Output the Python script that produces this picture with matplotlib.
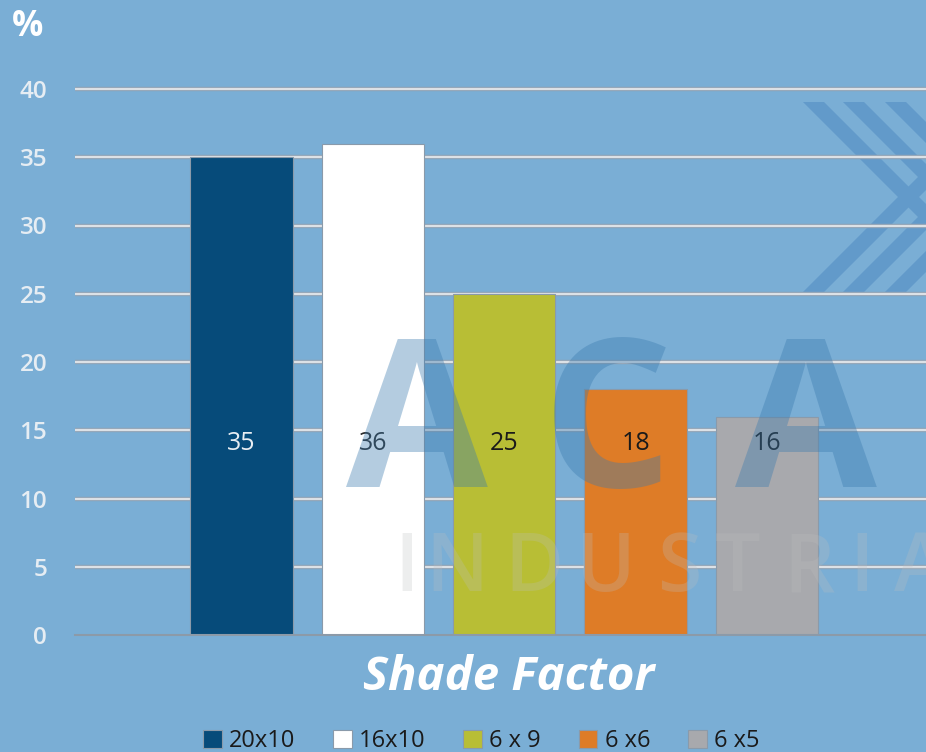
import matplotlib
matplotlib.use("Agg")
import matplotlib.pyplot as plt
from matplotlib.patches import Patch, Polygon

series = ["20x10", "16x10", "6 x 9", "6 x6", "6 x5"]
values = [35, 36, 25, 18, 16]
colors = ["#064B7A", "#FFFFFF", "#B8BE35", "#DE7C27", "#A8A9AD"]
label_colors = ["#E8EEF3", "#2A2A2A", "#1A1A1A", "#1A1A1A", "#1A1A1A"]
yticks = [0, 5, 10, 15, 20, 25, 30, 35, 40]
xlabel = "Shade Factor"
ylabel = "%"

W, H = 926, 752
BG = "#7AAED5"
fig = plt.figure(figsize=(W/100, H/100), dpi=100, facecolor=BG)
ax = fig.add_axes([75/W, 1-635/H, 851/W, (635-89)/H])
ax.patch.set_alpha(0)

def px(x, y):
    return (x/W, 1-y/H)

# decorative chevron stripes (background)
sw = 21
L = 260
for x0 in (803, 843, 885):
    pts = [px(x0, 102), px(x0+sw, 102), px(x0+sw+L, 102+L), px(x0+L, 102+L)]
    fig.patches.append(Polygon(pts, closed=True, transform=fig.transFigure,
                               facecolor="#629ACA", edgecolor="none", zorder=-1))
    pts = [px(x0, 292), px(x0+sw, 292), px(x0+sw+L, 292-L), px(x0+L, 292-L)]
    fig.patches.append(Polygon(pts, closed=True, transform=fig.transFigure,
                               facecolor="#629ACA", edgecolor="none", zorder=-1))

xs = list(range(len(values)))
for x, v, c in zip(xs, values, colors):
    ax.bar(x, v, width=0.78, color=c, edgecolor="#8A9AAA", linewidth=0.8, zorder=3)
for x, v, lc in zip(xs, values, label_colors):
    ax.text(x, 14, str(v), ha="center", va="center", fontsize=18,
            color=lc, family="Open Sans", zorder=5)

ax.set_xlim(-1.266, 5.21)
ax.set_ylim(0, 40)
ax.set_yticks(yticks)
ax.set_yticklabels([str(t) for t in yticks], fontsize=17.5, color="#E6EDF3",
                   family="Open Sans", fontweight="semibold")
ax.tick_params(axis="y", length=0, pad=20)
ax.tick_params(axis="x", length=0, labelbottom=False)
for s in ["top", "right", "left"]:
    ax.spines[s].set_visible(False)
ax.spines["bottom"].set_color("#8C9AA8")
ax.spines["bottom"].set_linewidth(1.5)
ax.spines["bottom"].set_zorder(4)
ax.hlines(yticks[1:], -1.266, 5.21, colors="#8FA2B4", linewidth=3.2, zorder=1, clip_on=False)
ax.hlines(yticks[1:], -1.266, 5.21, colors="#DCE1E6", linewidth=1.6, zorder=1.5, clip_on=False)

# watermark
for cx, ch in ((417, "A"), (608, "C"), (806, "A")):
    fig.text(cx/W, 1-487/H, ch, ha="center", va="baseline", fontsize=148,
             fontweight="bold", family="Open Sans", color="#3A7AAE", alpha=0.38, zorder=10)
for cx, ch in ((407, "I"), (457, "N"), (534, "D"), (606, "U"), (679, "S"),
               (738, "T"), (809, "R"), (862, "I"), (921, "A")):
    fig.text(cx/W, 1-591/H, ch, ha="center", va="baseline", fontsize=58,
             fontweight="semibold", family="Open Sans", color="#BCBEC0", alpha=0.26, zorder=10)

fig.text(28/W, 1-27/H, ylabel, ha="center", va="center", fontsize=25,
         fontweight="bold", color="white", family="Open Sans")
fig.text(509/W, 1-678/H, xlabel, ha="center", va="center", fontsize=34,
         fontweight="bold", fontstyle="italic", color="white", family="Open Sans")

handles = [Patch(facecolor=c, edgecolor="#8A9AAA", linewidth=0.8) for c in colors]
leg = fig.legend(handles, series, loc="center", bbox_to_anchor=(481/W, 1-741/H),
                 ncol=5, frameon=False, handlelength=0.8, handleheight=0.8,
                 handletextpad=0.3, columnspacing=1.6,
                 prop={"family": "Open Sans", "size": 17})
for t in leg.get_texts():
    t.set_color("#1A1A1A")

fig.savefig("out.png", dpi=100, facecolor=BG)
